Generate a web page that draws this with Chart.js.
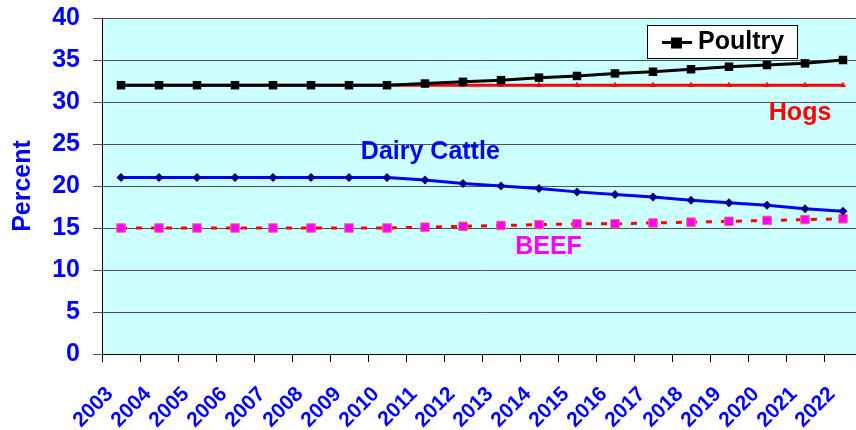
<!DOCTYPE html>
<html>
<head>
<meta charset="utf-8">
<script src="https://cdn.jsdelivr.net/npm/chart.js@4/dist/chart.umd.min.js"></script>
<style>
  html, body { margin: 0; padding: 0; background: #fff; overflow: hidden; }
  #wrap { width: 856px; height: 430px; overflow: hidden; }
</style>
</head>
<body>
<div id="wrap"><canvas id="chart" width="872" height="430"></canvas></div>
<script>
// categories
var years = ["2003","2004","2005","2006","2007","2008","2009","2010","2011","2012",
             "2013","2014","2015","2016","2017","2018","2019","2020","2021","2022"];

// series values (percent)
var poultry = [32, 32, 32, 32, 32, 32, 32, 32, 32.2, 32.4, 32.6, 32.9, 33.1, 33.4, 33.6, 33.9, 34.2, 34.4, 34.6, 35.0];
var hogs    = [32, 32, 32, 32, 32, 32, 32, 32, 32, 32, 32, 32, 32, 32, 32, 32, 32, 32, 32, 32];
var dairy   = [21, 21, 21, 21, 21, 21, 21, 21, 20.7, 20.3, 20.0, 19.7, 19.3, 19.0, 18.7, 18.3, 18.0, 17.7, 17.3, 17.0];
var beef    = [15, 15, 15, 15, 15, 15, 15, 15, 15.1, 15.2, 15.3, 15.4, 15.5, 15.5, 15.6, 15.7, 15.8, 15.9, 16.0, 16.1];

// text labels placed on the plot (category index, value)
var notes = [
  { text: "Hogs",         at: 17.87, val: 28.7, color: "#ff0000" },
  { text: "Dairy Cattle", at: 8.14,  val: 24.0, color: "#0000ff" },
  { text: "BEEF",         at: 11.25, val: 12.7, color: "#ff00ff" }
];

var FONT = "'Liberation Sans', Arial, sans-serif";

// fill plot area light cyan
var plotBg = {
  id: "plotBg",
  beforeDraw: function(chart) {
    var a = chart.chartArea, ctx = chart.ctx;
    ctx.save();
    ctx.fillStyle = "#ccffff";
    ctx.fillRect(a.left, a.top, a.right - a.left, a.bottom - a.top);
    ctx.restore();
  }
};

// series names written on the plot + the small Poultry legend box
var labelsPlugin = {
  id: "labelsPlugin",
  afterDatasetsDraw: function(chart) {
    var ctx = chart.ctx, xs = chart.scales.x, ys = chart.scales.y;
    ctx.save();
    ctx.font = "bold 25px " + FONT;
    ctx.textAlign = "center";
    ctx.textBaseline = "middle";
    notes.forEach(function(n) {
      ctx.fillStyle = n.color;
      ctx.fillText(n.text, xs.getPixelForValue(n.at), ys.getPixelForValue(n.val));
    });

    // legend box
    var a = chart.chartArea;
    var bx = a.right - 215, by = a.top + 7, bw = 150, bh = 33;
    ctx.fillStyle = "#ffffff";
    ctx.fillRect(bx, by, bw, bh);
    ctx.strokeStyle = "#000000";
    ctx.lineWidth = 1;
    ctx.strokeRect(bx + 0.5, by + 0.5, bw, bh);
    var cy = by + bh / 2 + 1;
    ctx.lineWidth = 3;
    ctx.beginPath();
    ctx.moveTo(bx + 15, cy);
    ctx.lineTo(bx + 45, cy);
    ctx.stroke();
    ctx.fillStyle = "#000000";
    ctx.fillRect(bx + 24, cy - 5, 11, 11);
    ctx.font = "bold 25px " + FONT;
    ctx.textAlign = "left";
    ctx.fillText("Poultry", bx + 51, cy);
    ctx.restore();
  }
};

var ctx = document.getElementById("chart");
var myChart = new Chart(ctx, {
  type: "line",
  data: {
    labels: years,
    datasets: [
      {
        label: "Poultry",
        data: poultry,
        borderColor: "#000000",
        backgroundColor: "#000000",
        borderWidth: 3,
        pointStyle: "rect",
        pointRadius: 6,
        pointBorderWidth: 0,
        fill: false
      },
      {
        label: "Hogs",
        data: hogs,
        borderColor: "#ff0000",
        backgroundColor: "#ff0000",
        borderWidth: 3,
        pointStyle: "triangle",
        pointRadius: 3.5,
        pointBorderWidth: 0,
        fill: false
      },
      {
        label: "Dairy Cattle",
        data: dairy,
        borderColor: "#0000ff",
        backgroundColor: "#000080",
        pointBorderColor: "#000080",
        borderWidth: 3,
        pointStyle: "rectRot",
        pointRadius: 4.5,
        pointBorderWidth: 0,
        fill: false
      },
      {
        label: "BEEF",
        data: beef,
        borderColor: "#ff0000",
        backgroundColor: "#ff00ff",
        pointBorderColor: "#ff6666",
        borderWidth: 3,
        borderDash: [6, 9],
        pointStyle: "rect",
        pointRadius: 6,
        pointBorderWidth: 1,
        fill: false
      }
    ]
  },
  options: {
    responsive: false,
    animation: false,
    layout: { padding: { top: 18, right: 10, left: 0, bottom: 0 } },
    plugins: {
      legend: { display: false },
      tooltip: { enabled: false }
    },
    elements: { line: { tension: 0 } },
    scales: {
      x: {
        offset: true,
        grid: {
          offset: true,
          drawOnChartArea: false,
          drawTicks: true,
          tickLength: 8,
          color: "#000000"
        },
        border: { color: "#000000", width: 1 },
        ticks: {
          autoSkip: false,
          maxRotation: 45,
          minRotation: 45,
          labelOffset: -11,
          color: "#0000ff",
          font: { family: FONT, size: 21, weight: "bold" },
          padding: 20
        },
        afterFit: function(s) {
          s.height = 76;
          s.paddingLeft = 0;
          s.paddingRight = 0;
        }
      },
      y: {
        min: 0,
        max: 40,
        ticks: {
          stepSize: 5,
          color: "#0000ff",
          font: { family: FONT, size: 25, weight: "bold" },
          padding: 13
        },
        grid: {
          color: "#505050",
          tickLength: 9,
          lineWidth: 1
        },
        border: { color: "#000000", width: 1 },
        title: {
          display: true,
          text: "Percent",
          color: "#0000ff",
          font: { family: FONT, size: 25, weight: "bold" },
          padding: { top: 8, bottom: 0 }
        },
        afterFit: function(s) {
          s.width = 102;
          s.paddingTop = 0;
          s.paddingBottom = 0;
        }
      }
    }
  },
  plugins: [plotBg, labelsPlugin]
});
</script>
</body>
</html>
